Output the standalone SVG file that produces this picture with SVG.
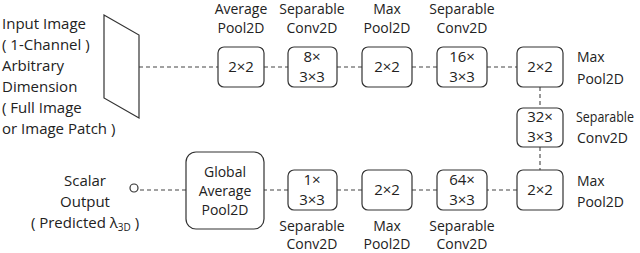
<svg xmlns="http://www.w3.org/2000/svg" width="640" height="253" viewBox="0 0 640 253">
<style>
text{font-family:"Open Sans","Liberation Sans",sans-serif;font-size:14px;fill:#222}
.l{font-size:15px}
.c{text-anchor:middle}
.b{fill:#fff;stroke:#333;stroke-width:1.2}
.d{stroke:#444;stroke-width:1.1;stroke-dasharray:4 3;fill:none}
</style>
<rect width="640" height="253" fill="#fff"/>
<g id="connectors">
<path class="d" d="M139 67H218M264 67H288M337 67H362M412 67H437M487 67H517M540 87V108M540 147V170M517 190H487M437 190H412M362 190H337M288 190H264M186 190H138"/>
</g>
<g id="input">
<polygon class="b" points="104,15 139,35 139,118 104,98"/>
<text class="l" x="2" y="29">Input Image</text>
<text class="l" x="2" y="50">( 1-Channel )</text>
<text class="l" x="2" y="71">Arbitrary</text>
<text class="l" x="2" y="92">Dimension</text>
<text class="l" x="2" y="113">( Full Image</text>
<text class="l" x="2" y="134">or Image Patch )</text>
</g>
<g id="avgpool">
<rect class="b" x="218" y="47" width="46" height="40" rx="6"/>
<text class="c l" x="241" y="67" dy="5">2×2</text>
<text class="c" x="241" y="14">Average</text>
<text class="c" x="241" y="33">Pool2D</text>
</g>
<g id="sep8">
<rect class="b" x="288" y="47" width="49" height="40" rx="6"/>
<text class="c l" x="312" y="62">8×</text>
<text class="c l" x="312" y="82">3×3</text>
<text class="c" x="312" y="14">Separable</text>
<text class="c" x="312" y="33">Conv2D</text>
</g>
<g id="max1">
<rect class="b" x="362" y="47" width="50" height="40" rx="6"/>
<text class="c l" x="387" y="67" dy="5">2×2</text>
<text class="c" x="387" y="14">Max</text>
<text class="c" x="387" y="33">Pool2D</text>
</g>
<g id="sep16">
<rect class="b" x="437" y="47" width="50" height="40" rx="6"/>
<text class="c l" x="462" y="62">16×</text>
<text class="c l" x="462" y="82">3×3</text>
<text class="c" x="462" y="14">Separable</text>
<text class="c" x="462" y="33">Conv2D</text>
</g>
<g id="max2">
<rect class="b" x="517" y="47" width="46" height="40" rx="6"/>
<text class="c l" x="540" y="67" dy="5">2×2</text>
<text x="577" y="62">Max</text>
<text x="577" y="84">Pool2D</text>
</g>
<g id="sep32">
<rect class="b" x="517" y="108" width="46" height="39" rx="6"/>
<text class="c l" x="540" y="122">32×</text>
<text class="c l" x="540" y="142">3×3</text>
<text x="576" y="122" textLength="58" lengthAdjust="spacingAndGlyphs">Separable</text>
<text x="577" y="143">Conv2D</text>
</g>
<g id="max3">
<rect class="b" x="517" y="170" width="46" height="40" rx="6"/>
<text class="c l" x="540" y="190" dy="5">2×2</text>
<text x="577" y="186">Max</text>
<text x="577" y="207">Pool2D</text>
</g>
<g id="sep64">
<rect class="b" x="437" y="170" width="50" height="40" rx="6"/>
<text class="c l" x="462" y="185">64×</text>
<text class="c l" x="462" y="205">3×3</text>
<text class="c" x="462" y="231">Separable</text>
<text class="c" x="462" y="249">Conv2D</text>
</g>
<g id="max4">
<rect class="b" x="362" y="170" width="50" height="40" rx="6"/>
<text class="c l" x="387" y="190" dy="5">2×2</text>
<text class="c" x="387" y="231">Max</text>
<text class="c" x="387" y="249">Pool2D</text>
</g>
<g id="sep1">
<rect class="b" x="288" y="170" width="49" height="40" rx="6"/>
<text class="c l" x="312" y="185">1×</text>
<text class="c l" x="312" y="205">3×3</text>
<text class="c" x="312" y="231">Separable</text>
<text class="c" x="312" y="249">Conv2D</text>
</g>
<g id="gap">
<rect class="b" x="186" y="152" width="78" height="77" rx="10"/>
<text class="c" x="225" y="177">Global</text>
<text class="c" x="225" y="196">Average</text>
<text class="c" x="225" y="215">Pool2D</text>
</g>
<g id="output">
<circle class="b" cx="134" cy="188" r="4"/>
<text class="c l" x="85" y="186">Scalar</text>
<text class="c l" x="85" y="207">Output</text>
<text class="c l" x="85" y="228">( Predicted λ<tspan font-size="10" dy="3">3D</tspan><tspan dy="-3"> )</tspan></text>
</g>
</svg>
